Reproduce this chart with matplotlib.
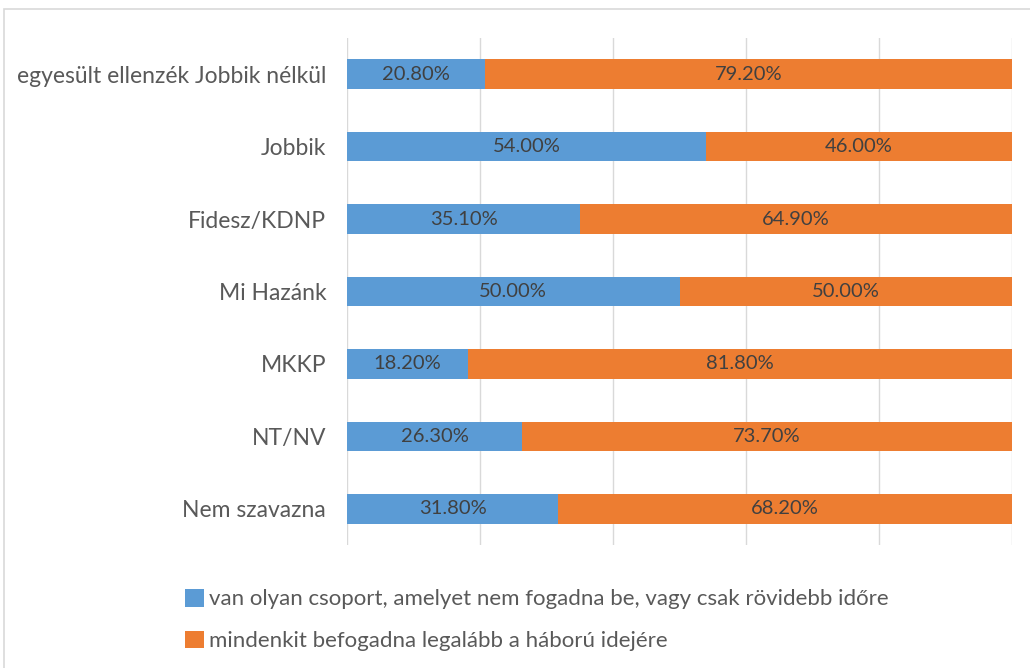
import matplotlib.pyplot as plt
import numpy as np
from matplotlib.patches import Rectangle

plt.rcParams['font.family'] = ['Lato', 'DejaVu Sans']

categories = ['egyesült ellenzék Jobbik nélkül', 'Jobbik', 'Fidesz/KDNP', 'Mi Hazánk',
              'MKKP', 'NT/NV', 'Nem szavazna']
van_csoport = [20.8, 54.0, 35.1, 50.0, 18.2, 26.3, 31.8]
mindenkit = [79.2, 46.0, 64.9, 50.0, 81.8, 73.7, 68.2]
series_names = ['van olyan csoport, amelyet nem fogadna be, vagy csak rövidebb időre',
                'mindenkit befogadna legalább a háború idejére']

blue = '#5B9BD5'
orange = '#ED7D31'
txt = '#595959'

fig = plt.figure(figsize=(10.3, 6.68), dpi=100)
ax = fig.add_axes([347/1030, 1 - 545/668, 665/1030, 507/668])

y = np.arange(len(categories))
a = np.array(van_csoport) / 100
b = np.array(mindenkit) / 100
h1 = ax.barh(y, a, height=0.41, color=blue, label=series_names[0], zorder=3)
h2 = ax.barh(y, b, left=a, height=0.41, color=orange, label=series_names[1], zorder=3)

for i in range(len(categories)):
    ax.text(a[i] / 2, y[i], f'{van_csoport[i]:.2f}%', ha='center', va='center',
            fontsize=14.5, color='#404040', zorder=4)
    ax.text(a[i] + b[i] / 2, y[i], f'{mindenkit[i]:.2f}%', ha='center', va='center',
            fontsize=14.5, color='#404040', zorder=4)

ax.set_xlim(0, 1)
ax.set_ylim(len(categories) - 0.5, -0.5)
ax.set_xticks(np.arange(0, 1.01, 0.2))
ax.set_xticklabels([])
ax.tick_params(axis='x', length=0)
ax.set_yticks(y)
ax.set_yticklabels(categories, fontsize=16.5, color=txt)
ax.tick_params(axis='y', length=0, pad=15)
ax.grid(axis='x', color='#D9D9D9', lw=1, zorder=0)
for s in ax.spines.values():
    s.set_visible(False)

fig.legend(handles=[h1, h2], loc='upper left', bbox_to_anchor=(176/1030, 1 - 580/668),
           frameon=False, fontsize=16, labelcolor=txt, handlelength=0.85, handleheight=0.85,
           handletextpad=0.25, labelspacing=0.95, borderaxespad=0)

fig.patches.append(Rectangle((4/1030, -0.05), 1.1, 1 - 9/668 + 0.05, transform=fig.transFigure,
                             fill=False, edgecolor='#D9D9D9', lw=1.2))

fig.savefig('out.png', dpi=100)
